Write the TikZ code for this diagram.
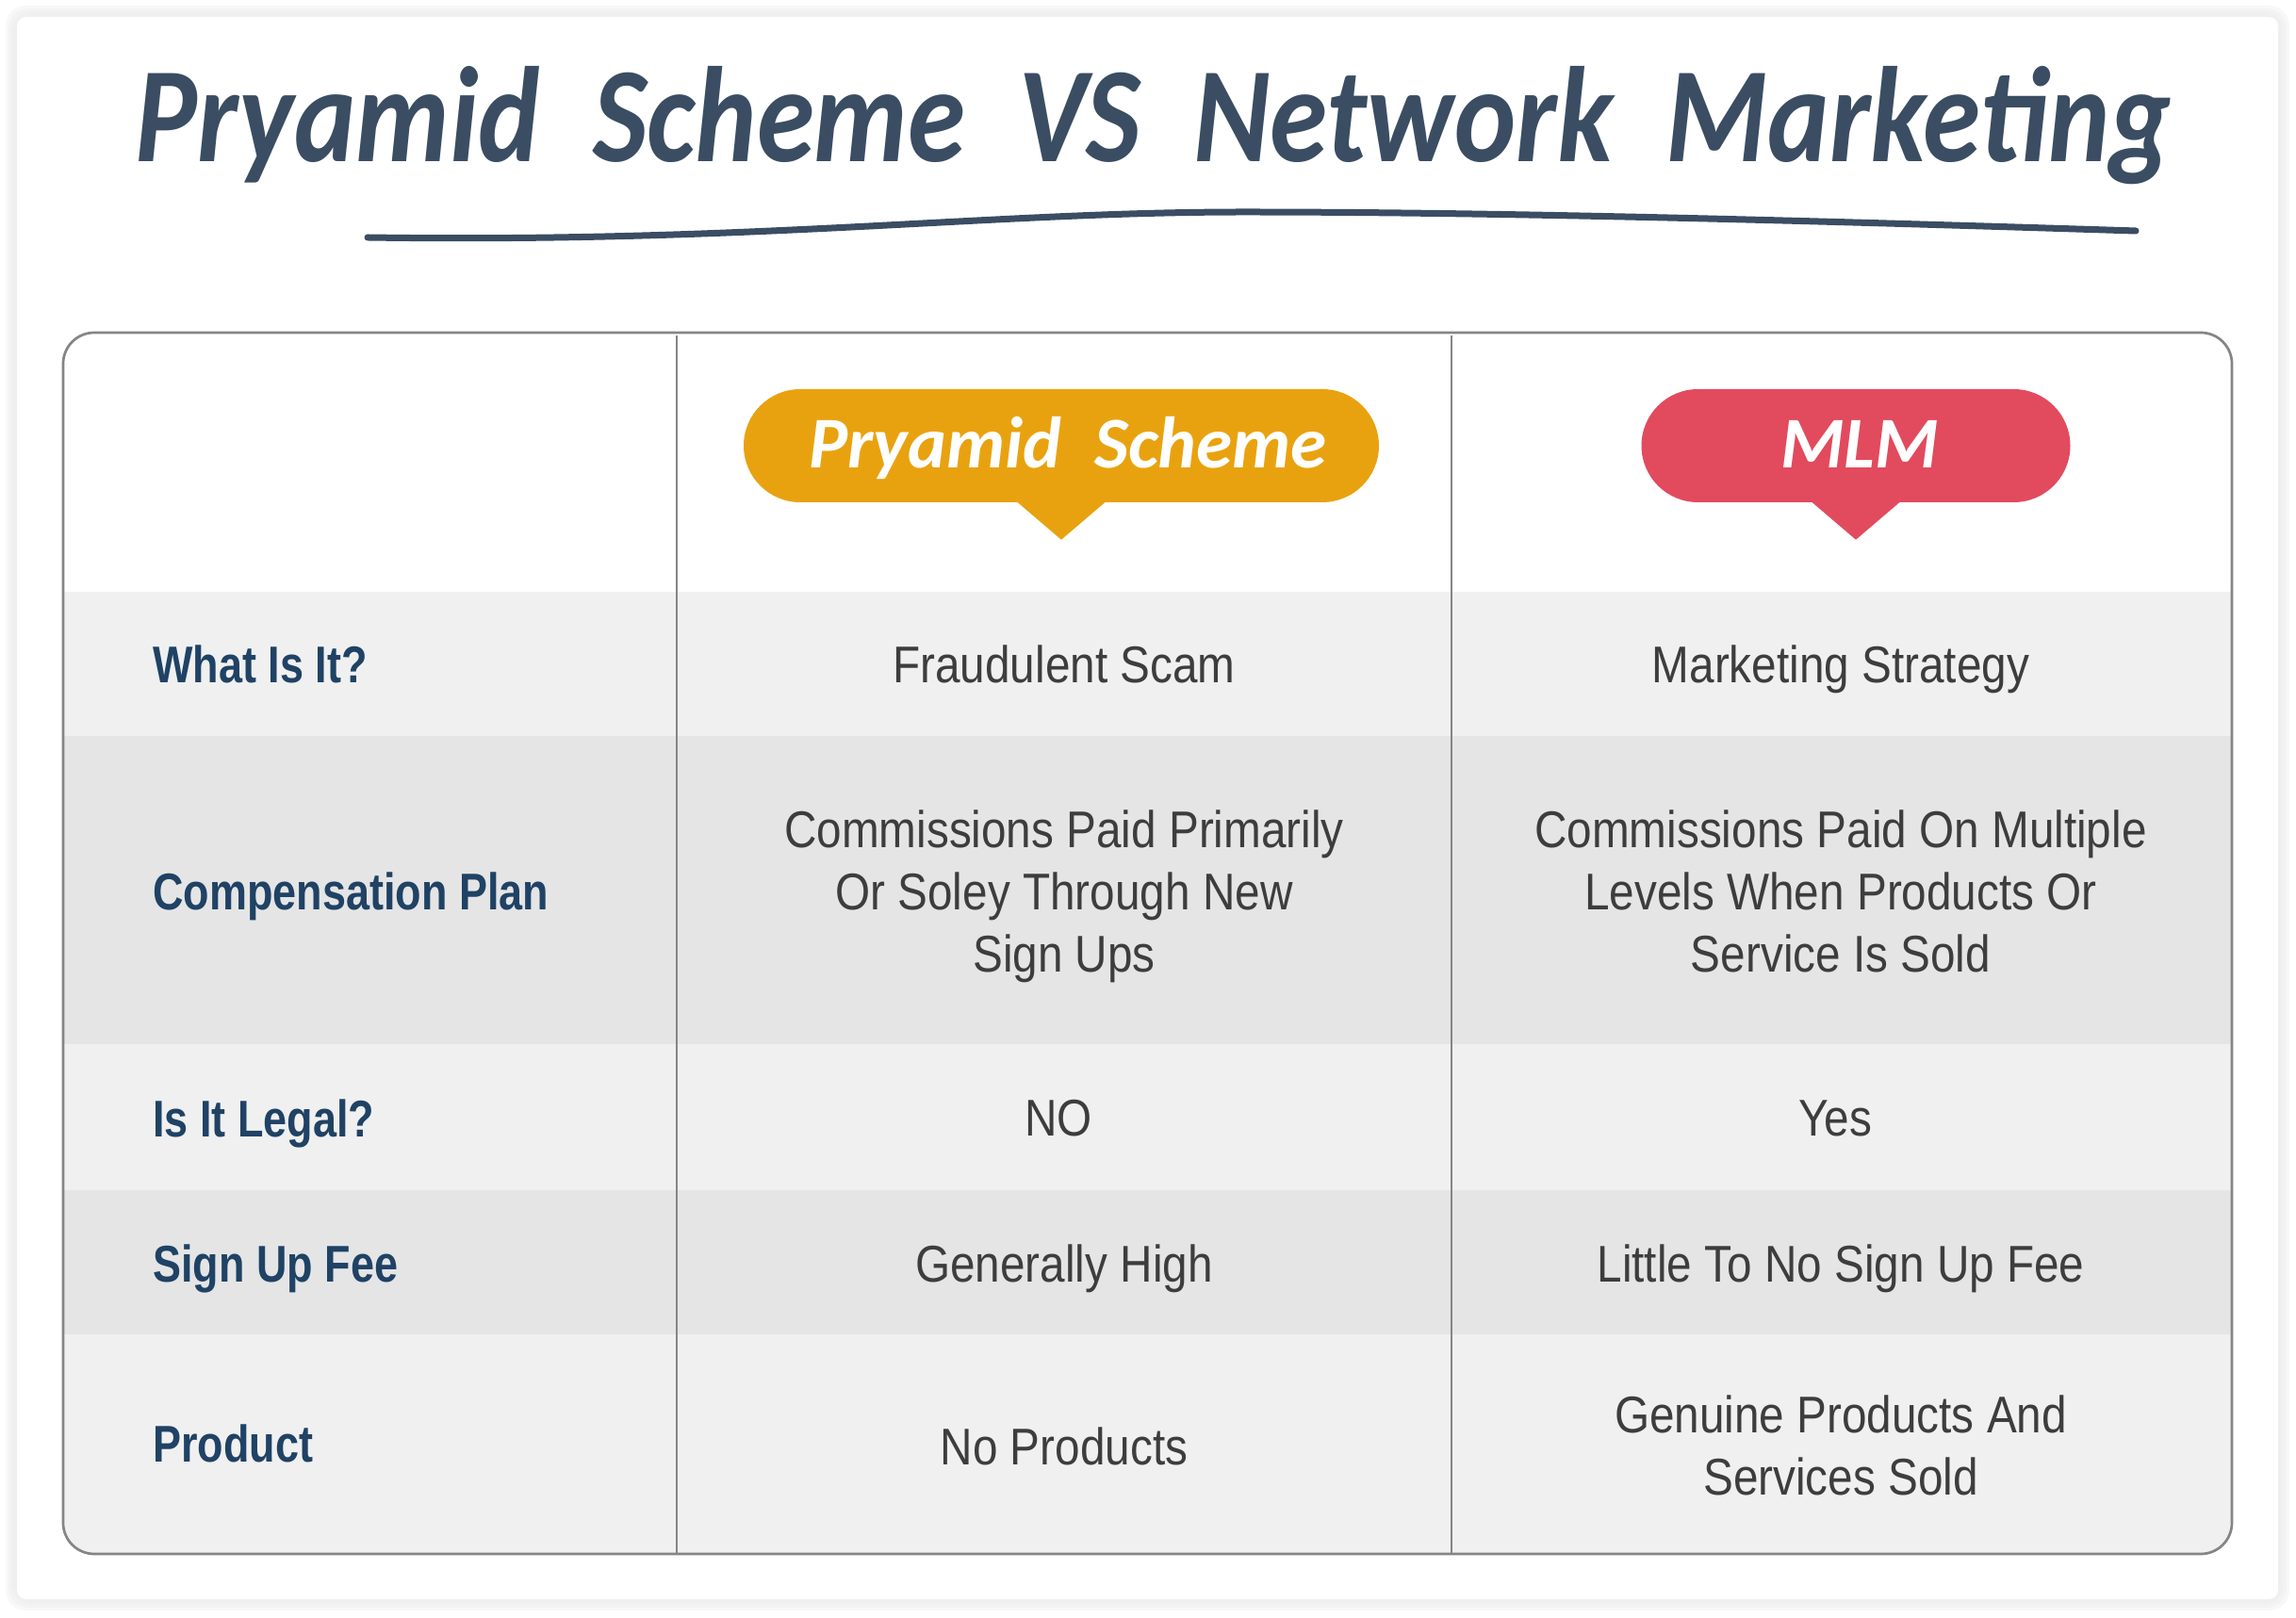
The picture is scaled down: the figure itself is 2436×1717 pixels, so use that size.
\documentclass[tikz,border=0pt]{standalone}
\usepackage{fontspec}
\usetikzlibrary{shapes.misc}
\newfontfamily\bodyfont[FakeStretch=0.87]{Liberation Sans}
\newfontfamily\labelfont[FakeStretch=0.82]{Liberation Sans}
\newfontfamily\handfont{Carlito}
\newfontfamily\titlefont[FakeStretch=0.86]{Carlito}
\definecolor{titleblue}{HTML}{3A4D63}
\definecolor{labelblue}{HTML}{1F4265}
\definecolor{celltext}{HTML}{3D3D3D}
\definecolor{rowlight}{HTML}{F0F0F0}
\definecolor{rowdark}{HTML}{E5E5E5}
\definecolor{amberpill}{HTML}{E9A20F}
\definecolor{redpill}{HTML}{E24A5E}
\definecolor{rulegray}{HTML}{858585}
\begin{document}
\begin{tikzpicture}[
    x=0.1mm, y=-0.1mm,
    rowlabel/.style={anchor=west, text=labelblue, font=\labelfont\bfseries\fontsize{15.6}{19}\selectfont},
    cell/.style={align=center, text=celltext, font=\bodyfont\fontsize{15.6}{18.8}\selectfont},
    pill/.style={rounded rectangle, minimum height=12mm, inner sep=0pt, fill=#1},
    pilltext/.style={text=white, font=\handfont\bfseries\itshape\fontsize{22}{26}\selectfont},
]
\useasboundingbox (0,0) rectangle (2436,1717);
% card and its soft shadow
\foreach \g in {12,9,6,3} {
    \fill[black!8, opacity=0.35, rounded corners=6] (18-\g,18-\g) rectangle (2417+\g,1697+\g);
}
\fill[white, rounded corners=1mm] (18,18) rectangle (2417,1697);
% title
\node[anchor=base, text=titleblue, font=\titlefont\bfseries\itshape\fontsize{41}{48}\selectfont] (title) at (1224,172) {Pryamid\ \ Scheme\ \ VS\ \ Network\ \ Marketing};
\draw[titleblue, line width=0.7mm, line cap=round] (390,252) .. controls (800,258) and (1050,225) .. (1320,225) .. controls (1600,225) and (1950,235) .. (2266,245);
% rows
\begin{scope}
    \clip[rounded corners=3.3mm] (67,353) rectangle (2368,1649);
    \foreach \ya/\yb/\c in {628/781/rowlight,781/1108/rowdark,1108/1263/rowlight,1263/1416/rowdark,1416/1649/rowlight} {
        \fill[\c] (67,\ya) rectangle (2368,\yb);
    }
\end{scope}
\draw[rulegray, line width=0.27mm, rounded corners=3.3mm] (67,353) rectangle (2368,1649);
\draw[rulegray, line width=0.27mm] (718,356) -- (718,1649);
\draw[rulegray, line width=0.27mm] (1540,356) -- (1540,1649);
% heads
\node[pill=amberpill, minimum width=67.4mm] (pyramid) at (1126,473) {};
\fill[amberpill] ([xshift=-4.8mm,yshift=0.2mm]pyramid.south) -- ([yshift=-3.9mm]pyramid.south) -- ([xshift=4.8mm,yshift=0.2mm]pyramid.south) -- cycle;
\node[pilltext] (pyramidtext) at (1133,475) {Pryamid\ \ Scheme};
\node[pill=redpill, minimum width=45.5mm] (mlm) at (1969,473) {};
\fill[redpill] ([xshift=-4.8mm,yshift=0.2mm]mlm.south) -- ([yshift=-3.9mm]mlm.south) -- ([xshift=4.8mm,yshift=0.2mm]mlm.south) -- cycle;
\node[pilltext] (mlmtext) at (1973,471) {MLM};
% row labels
\foreach \n/\y/\t in {a/705/What Is It?,b/951/Compensation Plan,c/1192/Is It Legal?,d/1346/Sign Up Fee,e/1532/Product} {
    \node[rowlabel] (label\n) at (150,\y) {\t};
}
% cells
\foreach \n/\x/\y/\t in {
    a/1129/705/Fraudulent Scam,
    b/1129/951/{Commissions Paid Primarily\\Or Soley Through New\\Sign Ups},
    c/1123/1187/NO,
    d/1129/1346/Generally High,
    e/1129/1535/No Products,
    f/1953/710/Marketing Strategy,
    g/1953/946/{Commissions Paid On Multiple\\Levels When Products Or\\Service Is Sold},
    h/1947/1187/Yes,
    i/1953/1346/Little To No Sign Up Fee,
    j/1953/1534/{Genuine Products And\\Services Sold}} {
    \node[cell] (cell\n) at (\x,\y) {\t};
}
\end{tikzpicture}
\end{document}
